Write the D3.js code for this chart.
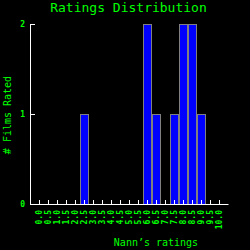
<!DOCTYPE html>
<html>
<head>
<meta charset="utf-8">
<script src="https://cdn.jsdelivr.net/npm/d3@7"></script>
<style>
  body { margin: 0; background: #000; }
  svg { display: block; }
</style>
</head>
<body>
<script>
//Chart values
var tickLabels = ["0.0", "0.5", "1.0", "1.5", "2.0", "2.5", "3.0", "3.5", "4.0", "4.5", "5.0",
                  "5.5", "6.0", "6.5", "7.0", "7.5", "8.0", "8.5", "9.0", "9.5", "10.0"];
var barRatings = [2.5, 6.0, 6.5, 7.5, 8.0, 8.5, 9.0];
var barCounts  = [1, 2, 1, 1, 2, 2, 1];
var countTicks = [0, 1, 2];

var green = "#00ff00";
var mono = "'DejaVu Sans Mono', monospace";

//Plot frame (avoid the name "top", it is window.top)
var plotLeft = 30, plotRight = 228, plotTop = 24, plotBottom = 204;

var svg = d3.select('body')
    .append('svg')
    .attr('width', 250)
    .attr('height', 250)
    .style('background-color', '#000');

//Scales
var xscale = d3.scaleLinear()
    .domain([-0.5, 10.5])
    .range([plotLeft, plotRight]);

var yscale = d3.scaleLinear()
    .domain([0, 2])
    .range([plotBottom, plotTop]);

//Bars: 9px outer boxes with a 1px grey border, neighbours share a 2px seam
var barW = xscale(0.5) - xscale(0);
svg.selectAll('rect.bar')
    .data(barRatings).enter()
    .append('rect')
    .attr('class', 'bar')
    .attr('x', function(d) { return xscale(d) - barW / 2 + 1; })
    .attr('width', barW - 1)
    .attr('y', function(d, i) { return yscale(barCounts[i]) + 0.5; })
    .attr('height', function(d, i) { return yscale(0) - yscale(barCounts[i]); })
    .attr('fill', '#0000ff')
    .attr('stroke', '#808080')
    .attr('stroke-width', 1);

//X-axis (ticks point up into the plot)
var xAxis = svg.append('g')
    .attr('transform', 'translate(0,' + plotBottom + ')')
    .call(d3.axisBottom(xscale)
      .tickValues(tickLabels.map(Number))
      .tickFormat(function(d, i) { return tickLabels[i]; })
      .tickSizeInner(-4)
      .tickSizeOuter(0));

xAxis.select('.domain').attr('stroke', '#fff');
xAxis.selectAll('.tick line').attr('stroke', '#fff');
xAxis.selectAll('.tick text')
    .attr('fill', green)
    .attr('font-family', mono)
    .attr('font-size', 8)
    .attr('font-weight', 'bold')
    .attr('text-anchor', 'end')
    .attr('x', -6)
    .attr('y', 0)
    .attr('dy', '0.35em')
    .attr('transform', 'rotate(-90)');

//Y-axis (ticks point right)
var yAxis = svg.append('g')
    .attr('transform', 'translate(' + plotLeft + ',0)')
    .call(d3.axisLeft(yscale)
      .tickValues(countTicks)
      .tickFormat(d3.format('d'))
      .tickSizeInner(-5)
      .tickSizeOuter(0)
      .tickPadding(5));

yAxis.select('.domain').attr('stroke', '#fff');
yAxis.selectAll('.tick line').attr('stroke', '#fff');
yAxis.selectAll('.tick text')
    .attr('fill', green)
    .attr('font-family', mono)
    .attr('font-size', 8)
    .attr('font-weight', 'bold');

//Title
svg.append('text')
    .attr('x', 128.5)
    .attr('y', 12)
    .attr('text-anchor', 'middle')
    .attr('fill', green)
    .attr('font-family', mono)
    .attr('font-size', 13)
    .text('Ratings Distribution');

//X label
svg.append('text')
    .attr('x', 156)
    .attr('y', 246)
    .attr('text-anchor', 'middle')
    .attr('fill', green)
    .attr('font-family', mono)
    .attr('font-size', 10)
    .text('Nann\u2019s ratings');

//Y label
svg.append('text')
    .attr('transform', 'translate(11,115) rotate(-90)')
    .attr('text-anchor', 'middle')
    .attr('fill', green)
    .attr('font-family', mono)
    .attr('font-size', 10)
    .text('# Films Rated');
</script>
</body>
</html>
